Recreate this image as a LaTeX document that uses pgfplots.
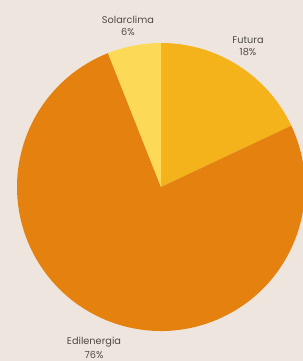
\documentclass[border=0pt]{standalone}
\usepackage{pgfplots}
\pgfplotsset{compat=1.18}
\usepackage{pgfplotstable}
\usepackage{fontspec}
\setmainfont{Poppins}
\definecolor{bg}{HTML}{EEE6DE}
\definecolor{cFut}{HTML}{F4B21B}
\definecolor{cEdi}{HTML}{E5820F}
\definecolor{cSol}{HTML}{FCD957}
\definecolor{txt}{HTML}{4F4A46}
\pgfplotstableread{
name value
Futura 18
Edilenergia 76
Solarclima 6
}\piedata
\begin{document}
\begin{tikzpicture}
\pgfplotstablegetelem{0}{value}\of\piedata \pgfmathsetmacro\va{\pgfplotsretval}
\pgfplotstablegetelem{1}{value}\of\piedata \pgfmathsetmacro\vb{\pgfplotsretval}
\pgfplotstablegetelem{2}{value}\of\piedata \pgfmathsetmacro\vc{\pgfplotsretval}
\pgfmathsetmacro\aA{90}
\pgfmathsetmacro\aB{90-3.6*\va}
\pgfmathsetmacro\aC{\aB-3.6*\vb}
\pgfmathsetmacro\aD{\aC-3.6*\vc}
\begin{axis}[
  x=1bp, y=1bp,
  xmin=-161, xmax=142, ymin=-174, ymax=187,
  hide axis, clip=true,
]
\fill[bg] (rel axis cs:0,0) rectangle (rel axis cs:1,1);
\fill[cFut] (axis cs:0,0) -- ([shift={(\aA:144bp)}]axis cs:0,0) arc[start angle=\aA, end angle=\aB, radius=144bp] -- cycle;
\fill[cEdi] (axis cs:0,0) -- ([shift={(\aB:144bp)}]axis cs:0,0) arc[start angle=\aB, end angle=\aC, radius=144bp] -- cycle;
\fill[cSol] (axis cs:0,0) -- ([shift={(\aC:144bp)}]axis cs:0,0) arc[start angle=\aC, end angle=\aD, radius=144bp] -- cycle;
\node[txt, align=center, font=\fontsize{9.8}{12.5}\selectfont] at (axis cs:-33,161) {Solarclima\\6\%};
\node[txt, align=center, font=\fontsize{9.8}{11.5}\selectfont] at (axis cs:87,141) {Futura\\18\%};
\node[txt, align=center, font=\fontsize{9.8}{14.5}\selectfont] at (axis cs:-67,-161) {Edilenergia\\76\%};
\end{axis}
\end{tikzpicture}
\end{document}
